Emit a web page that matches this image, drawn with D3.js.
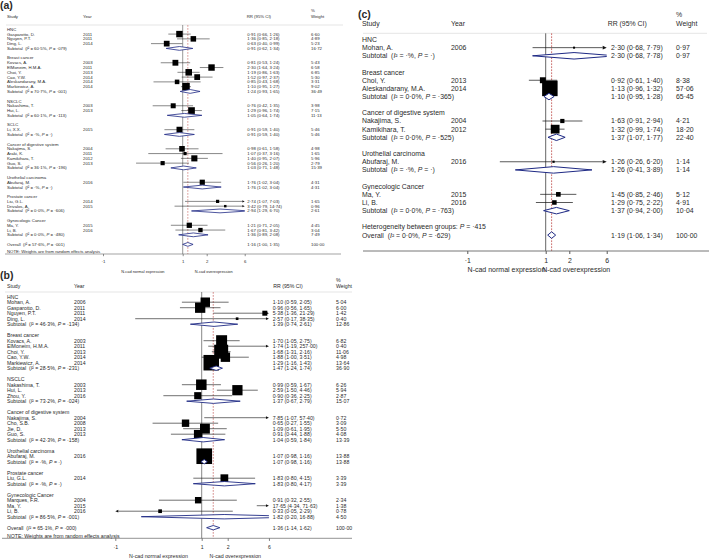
<!DOCTYPE html>
<html><head><meta charset="utf-8">
<script src="https://cdn.jsdelivr.net/npm/d3@7"></script>
<style>
body{margin:0;background:#fff}
svg{display:block}
text{font-family:"Liberation Sans",Arial,sans-serif;fill:#2a2a2a;white-space:pre}
</style>
</head><body>
<svg id="chart" width="709" height="560"></svg>
<script>
// ---------------- Panel (a) ----------------
const aKind = ['g','s','s','s','t','', 'g','s','s','s','s','s','s','t','', 'g','s','s','t','', 'g','s','t','', 'g','s','s','s','s','t','', 'g','s','t','', 'g','s','s','t','', 'g','s','s','t','', 'o','n'];
const aLabel = ['HNC','Gasparotto, D.','Nguyen, P.T.','Ding, L.','Subtotal  (I² = 60·5%, P = ·079)','',
 'Breast cancer','Kovacs, A.','ElMoneim, H.M.A.','Choi, Y.','Cao, Y.W.','Aleskandarany, M.A.','Markiewicz, A.','Subtotal  (I² = 70·7%, P = ·001)','',
 'NSCLC','Nakashima, T.','Hui, L.','Subtotal  (I² = 60·1%, P = ·113)','',
 'SCLC','Li, X.X.','Subtotal  (I² = ·%, P = ·)','',
 'Cancer of digestive system','Nakajima, S.','Araki, K.','Kamikihara, T.','Guo, S.','Subtotal  (I² = 36·1%, P = ·196)','',
 'Urothelial carcinoma','Abufaraj, M.','Subtotal  (I² = ·%, P = ·)','',
 'Prostate cancer','Liu, G.L.','Drivalos, A.','Subtotal  (I² = 0·0%, P = ·606)','',
 'Gynecologic Cancer','Ma, Y.','Li, B.','Subtotal  (I² = 0·0%, P = ·480)','',
 'Overall  (I² = 57·6%, P = ·001)','NOTE: Weights are from random effects analysis'];
const aYear = ['','2011','2011','2014','','', '','2003','2011','2013','2014','2014','2014','','', '','2003','2013','','', '','2015','','', '','2004','2011','2012','2013','','', '','2016','','', '','2014','2015','','', '','2015','2016','','', '',''];
const aRR = [null,0.91,1.36,0.63,0.91,null, null,0.81,2.30,1.19,1.52,0.85,1.10,1.24,null, null,0.76,1.29,1.05,null, null,0.91,0.91,null, null,0.98,1.07,1.40,0.56,1.03,null, null,1.76,1.76,null, null,2.74,3.42,2.94,null, null,1.21,1.67,1.36,null, 1.16,null];
const aLo = [null,0.66,0.85,0.40,0.62,null, null,0.53,1.64,0.86,0.97,0.43,0.95,0.93,null, null,0.42,0.96,0.64,null, null,0.59,0.59,null, null,0.61,0.37,0.95,0.26,0.71,null, null,1.02,1.02,null, null,1.07,0.79,1.29,null, null,0.71,0.81,0.89,null, 1.00,null];
const aHi = [null,1.26,2.18,0.99,1.34,null, null,1.24,3.24,1.63,2.37,1.68,1.27,1.65,null, null,1.35,1.74,1.74,null, null,1.40,1.40,null, null,1.58,3.16,2.07,1.20,1.48,null, null,3.04,3.04,null, null,7.03,14.74,6.70,null, null,2.05,3.42,2.08,null, 1.35,null];
const aW = [null,6.60,4.89,5.23,16.72,null, null,5.43,6.58,6.85,5.30,3.31,9.02,36.49,null, null,3.98,7.15,11.13,null, null,5.46,5.46,null, null,4.98,1.65,5.96,2.79,15.39,null, null,4.31,4.31,null, null,1.65,0.96,2.61,null, null,4.45,3.04,7.49,null, 100.00,null];

// ---------------- Panel (b) ----------------
const bKind = ['g','s','s','s','s','t','', 'g','s','s','s','s','s','t','', 'g','s','s','s','t','', 'g','s','s','s','s','t','', 'g','s','t','', 'g','s','t','', 'g','s','s','s','t','', 'o','n'];
const bLabel = ['HNC','Mohan, A.','Gasparotto, D.','Nguyen, P.T.','Ding, L.','Subtotal  (I² = 46·3%, P = ·134)','',
 'Breast cancer','Kovacs, A.','ElMoneim, H.M.A.','Choi, Y.','Cao, Y.W.','Markiewicz, A.','Subtotal  (I² = 28·5%, P = ·231)','',
 'NSCLC','Nakashima, T.','Hui, L.','Zhou, Y.','Subtotal  (I² = 73·2%, P = ·024)','',
 'Cancer of digestive system','Nakajima, S.','Cho, S.B.','Jie, D.','Guo, S.','Subtotal  (I² = 42·3%, P = ·158)','',
 'Urothelial carcinoma','Abufaraj, M.','Subtotal  (I² = ·%, P = ·)','',
 'Prostate cancer','Liu, G.L.','Subtotal  (I² = ·%, P = ·)','',
 'Gynecologic Cancer','Marques, F.R.','Ma, Y.','Li, B.','Subtotal  (I² = 86·5%, P = ·001)','',
 'Overall  (I² = 65·1%, P = ·000)','NOTE: Weights are from random effects analysis'];
const bYear = ['','2006','2011','2011','2014','','', '','2003','2011','2013','2014','2014','','', '','2003','2013','2016','','', '','2004','2008','2013','2013','','', '','2016','','', '','2014','','', '','2004','2015','2016','','', '',''];
const bRR = [null,1.10,0.96,5.38,2.57,1.39,null, null,1.70,1.74,1.68,1.88,1.29,1.47,null, null,0.99,2.59,0.90,1.37,null, null,7.85,0.65,1.09,0.91,1.04,null, null,1.07,1.07,null, null,1.83,1.83,null, null,0.91,17.65,0.33,1.82,null, 1.36,null];
const bLo = [null,0.59,0.56,1.36,0.17,0.74,null, null,1.05,1.19,1.31,1.00,1.16,1.24,null, null,0.59,1.50,0.36,0.67,null, null,1.07,0.27,0.61,0.44,0.59,null, null,0.98,0.98,null, null,0.80,0.80,null, null,0.32,4.34,0.05,0.20,null, 1.14,null];
const bHi = [null,2.05,1.65,21.29,38.35,2.61,null, null,2.75,257.00,2.16,3.51,1.43,1.74,null, null,1.67,4.46,2.25,2.79,null, null,57.40,1.55,1.95,1.88,1.84,null, null,1.16,1.16,null, null,4.15,4.17,null, null,2.55,71.63,2.29,16.88,null, 1.62,null];
const bW = [null,5.04,6.00,1.42,0.40,12.86,null, null,6.82,0.40,11.06,4.98,13.64,36.90,null, null,6.26,5.94,2.87,15.07,null, null,0.72,3.09,5.50,4.08,13.39,null, null,13.88,13.88,null, null,3.39,3.39,null, null,2.34,1.38,0.78,4.50,null, 100.00,null];

// ---------------- Panel (c) ----------------
const cKind = ['g','s','t','', 'g','s','s','t','', 'g','s','s','t','', 'g','s','t','', 'g','s','s','t','', 'h','o'];
const cLabel = ['HNC','Mohan, A.','Subtotal  (I² = ·%, P = ·)','',
 'Breast cancer','Choi, Y.','Aleskandarany, M.A.','Subtotal  (I² = 0·0%, P = ·365)','',
 'Cancer of digestive system','Nakajima, S.','Kamikihara, T.','Subtotal  (I² = 0·0%, P = ·525)','',
 'Urothelial carcinoma','Abufaraj, M.','Subtotal  (I² = ·%, P = ·)','',
 'Gynecologic Cancer','Ma, Y.','Li, B.','Subtotal  (I² = 0·0%, P = ·763)','',
 'Heterogeneity between groups: P = ·415','Overall  (I² = 0·0%, P = ·629)'];
const cYear = ['','2006','','', '','2013','2014','','', '','2004','2012','','', '','2016','','', '','2015','2016','','', '',''];
const cRR = [null,2.30,2.30,null, null,0.92,1.13,1.10,null, null,1.63,1.32,1.37,null, null,1.26,1.26,null, null,1.45,1.29,1.37,null, null,1.19];
const cLo = [null,0.68,0.68,null, null,0.61,0.96,0.95,null, null,0.91,0.99,1.07,null, null,0.26,0.41,null, null,0.85,0.75,0.94,null, null,1.06];
const cHi = [null,7.79,7.78,null, null,1.40,1.32,1.28,null, null,2.94,1.74,1.77,null, null,6.20,3.89,null, null,2.46,2.22,2.00,null, null,1.34];
const cW = [null,0.97,0.97,null, null,8.38,57.06,65.45,null, null,4.21,18.20,22.40,null, null,1.14,1.14,null, null,5.12,4.91,10.04,null, null,100.00];

const tickVals = [0.1, 1, 2, 6];
const tickText = ['·1', '1', '2', '6'];
const headStudy = 'Study', headYear = 'Year', headRR = 'RR (95% CI)', headPct = '%', headW = 'Weight';
const labNormal = 'N-cad normal expression', labOver = 'N-cad overexpression';

const panels = [
 {tag:'(a)', kind:aKind, label:aLabel, year:aYear, rr:aRR, lo:aLo, hi:aHi, w:aW,
  L:{tagX:0, tagY:8.5, x1:182.7, dec:79.7, top:25, y0:29.3, step:4.78, axisY:254, fs:4.3,
     cs:7, cy:83, crrH:246.7, crr:247.3, cw:311, h1:10.5, h2:16.5, lx1:6, lx2:343, ax1:5, ax2:341,
     k:2.5, dh:3.8, tickY:261.5, labY:271.5, labFs:3.9, tickLen:2.2, arL:2.4, arW:1.1, lw:0.5, vw:0.6, dw:0.8}},
 {tag:'(b)', kind:bKind, label:bLabel, year:bYear, rr:bRR, lo:bLo, hi:bHi, w:bW,
  L:{tagX:0, tagY:278.5, x1:201.7, dec:86.4, top:292, y0:296.7, step:5.5, axisY:538.3, fs:5.2,
     cs:7, cy:74, crrH:273.3, crr:272.7, cw:336, h1:279.7, h2:286.3, lx1:5, lx2:352, ax1:2, ax2:352,
     k:4.2, dh:4.4, tickY:546.7, labY:556.5, labFs:5.3, tickLen:2.6, arL:3, arW:1.4, lw:0.6, vw:0.7, dw:0.9}},
 {tag:'(c)', kind:cKind, label:cLabel, year:cYear, rr:cRR, lo:cLo, hi:cHi, w:cW,
  L:{tagX:358, tagY:18, x1:545.7, dec:78.4, top:33.3, y0:39.5, step:8.15, axisY:251, fs:6.9,
     cs:362, cy:451, crrH:607.7, crr:611, cw:676, h1:15, h2:23.3, lx1:363, lx2:707, ax1:363, ax2:709,
     k:2.05, dh:6.5, tickY:260.7, labY:270, labFs:7, tickLen:3, arL:4, arW:1.8, lw:0.7, vw:0.9, dw:1}}
];

const svg = d3.select('#chart');
const f2 = v => v.toFixed(2).replace('.', '·');

function richText(sel, str) {
  const parts = str.split(/(I(?=²)|P(?= =))/);
  parts.forEach(pt => {
    if (pt === '') return;
    const ts = sel.append('tspan').text(pt);
    if (pt === 'I' || pt === 'P') ts.attr('font-style', 'italic');
  });
}

panels.forEach((p, pi) => {
  const L = p.L;
  const x = d3.scaleLog().domain([0.1, 6]).range([L.x1 - L.dec, L.x1 + L.dec * Math.log10(6)]);
  const xmin = x(0.1), xmax = x(6);
  const rowY = i => L.y0 + L.step * i;
  const g = svg.append('g');
  const clipId = 'clip' + pi;
  svg.append('clipPath').attr('id', clipId).append('rect')
    .attr('x', xmin).attr('y', 0).attr('width', xmax - xmin).attr('height', 560);

  const txt = (xx, yy, s, fs, opts = {}) => {
    const t = g.append('text').attr('x', xx).attr('y', yy).attr('dy', '0.35em')
      .attr('font-size', opts.fs || fs);
    if (opts.anchor) t.attr('text-anchor', opts.anchor);
    if (opts.bold) t.attr('font-weight', 'bold');
    richText(t, s);
    return t;
  };

  // panel tag
  g.append('text').attr('x', L.tagX).attr('y', L.tagY).attr('font-size', 10.5)
    .attr('font-weight', 'bold').attr('fill', '#111').text(p.tag);

  // headers
  txt(L.cs, L.h2, headStudy, L.fs);
  txt(L.cy, L.h2, headYear, L.fs);
  txt(L.crrH, L.h2, headRR, L.fs);
  txt(L.cw, L.h1, headPct, L.fs);
  txt(L.cw, L.h2, headW, L.fs);
  g.append('line').attr('x1', L.lx1).attr('x2', L.lx2).attr('y1', L.top).attr('y2', L.top)
    .attr('stroke', '#d4d4d4').attr('stroke-width', 0.6);

  // null line
  g.append('line').attr('x1', x(1)).attr('x2', x(1)).attr('y1', L.top).attr('y2', L.axisY)
    .attr('stroke', '#555').attr('stroke-width', L.vw);
  // overall dashed line
  const oi = p.kind.indexOf('o');
  g.append('line').attr('x1', x(p.rr[oi])).attr('x2', x(p.rr[oi])).attr('y1', L.top).attr('y2', L.axisY)
    .attr('stroke', '#c0504d').attr('stroke-width', L.vw * 0.9).attr('stroke-dasharray', '1.8,1.2');

  const marks = g.append('g');
  p.kind.forEach((k, i) => {
    let yy = rowY(i);
    if (k === 'n') yy = rowY(i + 0.5);
    if (p.label[i]) txt(L.cs, yy, p.label[i], L.fs);
    if (k === 's') {
      if (p.year[i]) txt(L.cy, yy, p.year[i], L.fs);
    }
    if (k === 's' || k === 't' || k === 'o') {
      txt(L.crr, yy, `${f2(p.rr[i])} (${f2(p.lo[i])}, ${f2(p.hi[i])})`, L.fs);
      txt(L.cw, yy, f2(p.w[i]), L.fs);
    }
    if (k === 's') {
      const lo = p.lo[i], hi = p.hi[i];
      let xa = x(Math.max(lo, 0.1)), xb = x(Math.min(hi, 6));
      const leftA = lo < 0.1, rightA = hi > 6;
      marks.append('line').attr('x1', leftA ? xa + L.arL : xa).attr('x2', rightA ? xb - L.arL : xb)
        .attr('y1', yy).attr('y2', yy).attr('stroke', '#111').attr('stroke-width', L.lw);
      if (rightA) marks.append('path')
        .attr('d', `M${xmax},${yy}L${xmax - L.arL},${yy - L.arW}L${xmax - L.arL},${yy + L.arW}Z`).attr('fill', '#111');
      if (leftA) marks.append('path')
        .attr('d', `M${xmin},${yy}L${xmin + L.arL},${yy - L.arW}L${xmin + L.arL},${yy + L.arW}Z`).attr('fill', '#111');
      const r = p.rr[i];
      if (r >= 0.1 && r <= 6) {
        const s = L.k * Math.sqrt(p.w[i]);
        marks.append('rect').attr('x', x(r) - s / 2).attr('y', yy - s / 2)
          .attr('width', s).attr('height', s).attr('fill', '#000');
      }
    }
    if (k === 't' || k === 'o') {
      const h = L.dh / 2;
      const pts = [[x(p.lo[i]), yy], [x(p.rr[i]), yy - h], [x(p.hi[i]), yy], [x(p.rr[i]), yy + h]];
      marks.append('path').attr('d', 'M' + pts.map(q => q.join(',')).join('L') + 'Z')
        .attr('fill', '#fff').attr('stroke', '#1f2a85').attr('stroke-width', L.dw)
        .attr('stroke-linejoin', 'miter').attr('clip-path', `url(#${clipId})`);
    }
  });

  // axis
  const ax = d3.axisBottom(x).tickValues(tickVals)
    .tickFormat((v, j) => tickText[j]).tickSize(L.tickLen).tickSizeOuter(0);
  const ag = g.append('g').attr('transform', `translate(0,${L.axisY})`).call(ax);
  ag.select('.domain').remove();
  ag.selectAll('.tick line').attr('stroke', '#444').attr('stroke-width', L.vw);
  ag.selectAll('.tick text').attr('y', L.tickY - L.axisY).attr('dy', '0.35em')
    .attr('font-size', L.fs).attr('font-family', '"Liberation Sans",Arial,sans-serif').attr('fill', '#2a2a2a');
  g.append('line').attr('x1', L.ax1).attr('x2', L.ax2).attr('y1', L.axisY).attr('y2', L.axisY)
    .attr('stroke', '#666').attr('stroke-width', L.vw);

  txt((xmin + x(1)) / 2, L.labY, labNormal, L.labFs, {anchor: 'middle'});
  txt((x(1) + xmax) / 2, L.labY, labOver, L.labFs, {anchor: 'middle'});
});
</script>
</body></html>
